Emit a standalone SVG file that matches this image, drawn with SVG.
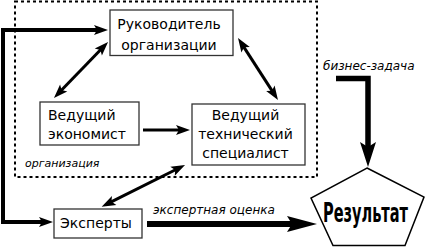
<svg xmlns="http://www.w3.org/2000/svg" width="426" height="248" viewBox="0 0 426 248">
<style>
.box{fill:#fff;stroke:#333;stroke-width:1.3}
.t{font-family:"DejaVu Sans","Liberation Sans",sans-serif;font-size:14px;fill:#000}
.c{text-anchor:middle}
.lab{font-family:"DejaVu Sans","Liberation Sans",sans-serif;font-style:italic;fill:#000}
.ln{fill:none;stroke:#000;stroke-linejoin:miter}
</style>
<defs>
<marker id="a1" markerUnits="userSpaceOnUse" markerWidth="16" markerHeight="12" refX="5" refY="5" orient="auto-start-reverse" overflow="visible"><path d="M0,0 L14,5 L0,10 L3,5 z" fill="#000"/></marker>
<marker id="a3" markerUnits="userSpaceOnUse" markerWidth="32" markerHeight="18" refX="8" refY="8" orient="auto-start-reverse" overflow="visible"><path d="M0,0 L30,8 L0,16 L5,8 z" fill="#000"/></marker>
<marker id="a4" markerUnits="userSpaceOnUse" markerWidth="28" markerHeight="18" refX="8" refY="8" orient="auto-start-reverse" overflow="visible"><path d="M0,0 L25,8 L0,16 L5,8 z" fill="#000"/></marker>
</defs>
<g id="org-boundary">
<rect x="15" y="1.5" width="302" height="175.5" fill="none" stroke="#000" stroke-width="2" stroke-dasharray="3,3"/>
<text class="lab" x="25" y="167" font-size="11">организация</text>
</g>
<g id="connectors">
<path class="ln" d="M99,30 H3 V222 H44" stroke-width="4" marker-start="url(#a1)" marker-end="url(#a1)"/>
<path class="ln" d="M60.2,91.5 L101.8,48.5" stroke-width="3" marker-start="url(#a1)" marker-end="url(#a1)"/>
<path class="ln" d="M242.9,45.6 L273.1,92.4" stroke-width="3" marker-start="url(#a1)" marker-end="url(#a1)"/>
<path class="ln" d="M143,130 H181" stroke-width="3" marker-end="url(#a1)"/>
<path class="ln" d="M109.7,202.7 L177,169" stroke-width="3" marker-start="url(#a1)" marker-end="url(#a1)"/>
<path class="ln" d="M147,224 H295" stroke-width="6" marker-end="url(#a3)"/>
<path class="ln" d="M336,78.5 H368 V150" stroke-width="5.5" marker-end="url(#a4)"/>
<text class="lab" x="153" y="214" font-size="12">экспертная оценка</text>
<text class="lab" x="323" y="70" font-size="12">бизнес-задача</text>
</g>
<g id="head">
<rect class="box" x="110" y="10" width="123" height="45.5"/>
<text class="t c" x="169" y="29">Руководитель</text>
<text class="t c" x="169" y="49.5">организации</text>
</g>
<g id="economist">
<rect class="box" x="40" y="102" width="99" height="43"/>
<text class="t" x="48" y="119.5">Ведущий</text>
<text class="t" x="48" y="139">экономист</text>
</g>
<g id="tech">
<rect class="box" x="192" y="104" width="113" height="61"/>
<text class="t c" x="245.5" y="120">Ведущий</text>
<text class="t c" x="245.5" y="139">технический</text>
<text class="t c" x="245.5" y="158">специалист</text>
</g>
<g id="experts">
<rect class="box" x="54" y="209" width="88" height="29"/>
<text class="t c" x="96" y="227.5">Эксперты</text>
</g>
<g id="result">
<polygon points="367,168 424,197 405,245.5 333,245.5 311,198" fill="#fff" stroke="#000" stroke-width="1.5" stroke-linejoin="miter"/>
<text transform="translate(365.5,222) scale(0.56,1)" x="0" y="0" text-anchor="middle" font-family="DejaVu Sans, Liberation Sans, sans-serif" font-weight="bold" font-size="26" textLength="152" lengthAdjust="spacingAndGlyphs">Результат</text>
</g>
</svg>
